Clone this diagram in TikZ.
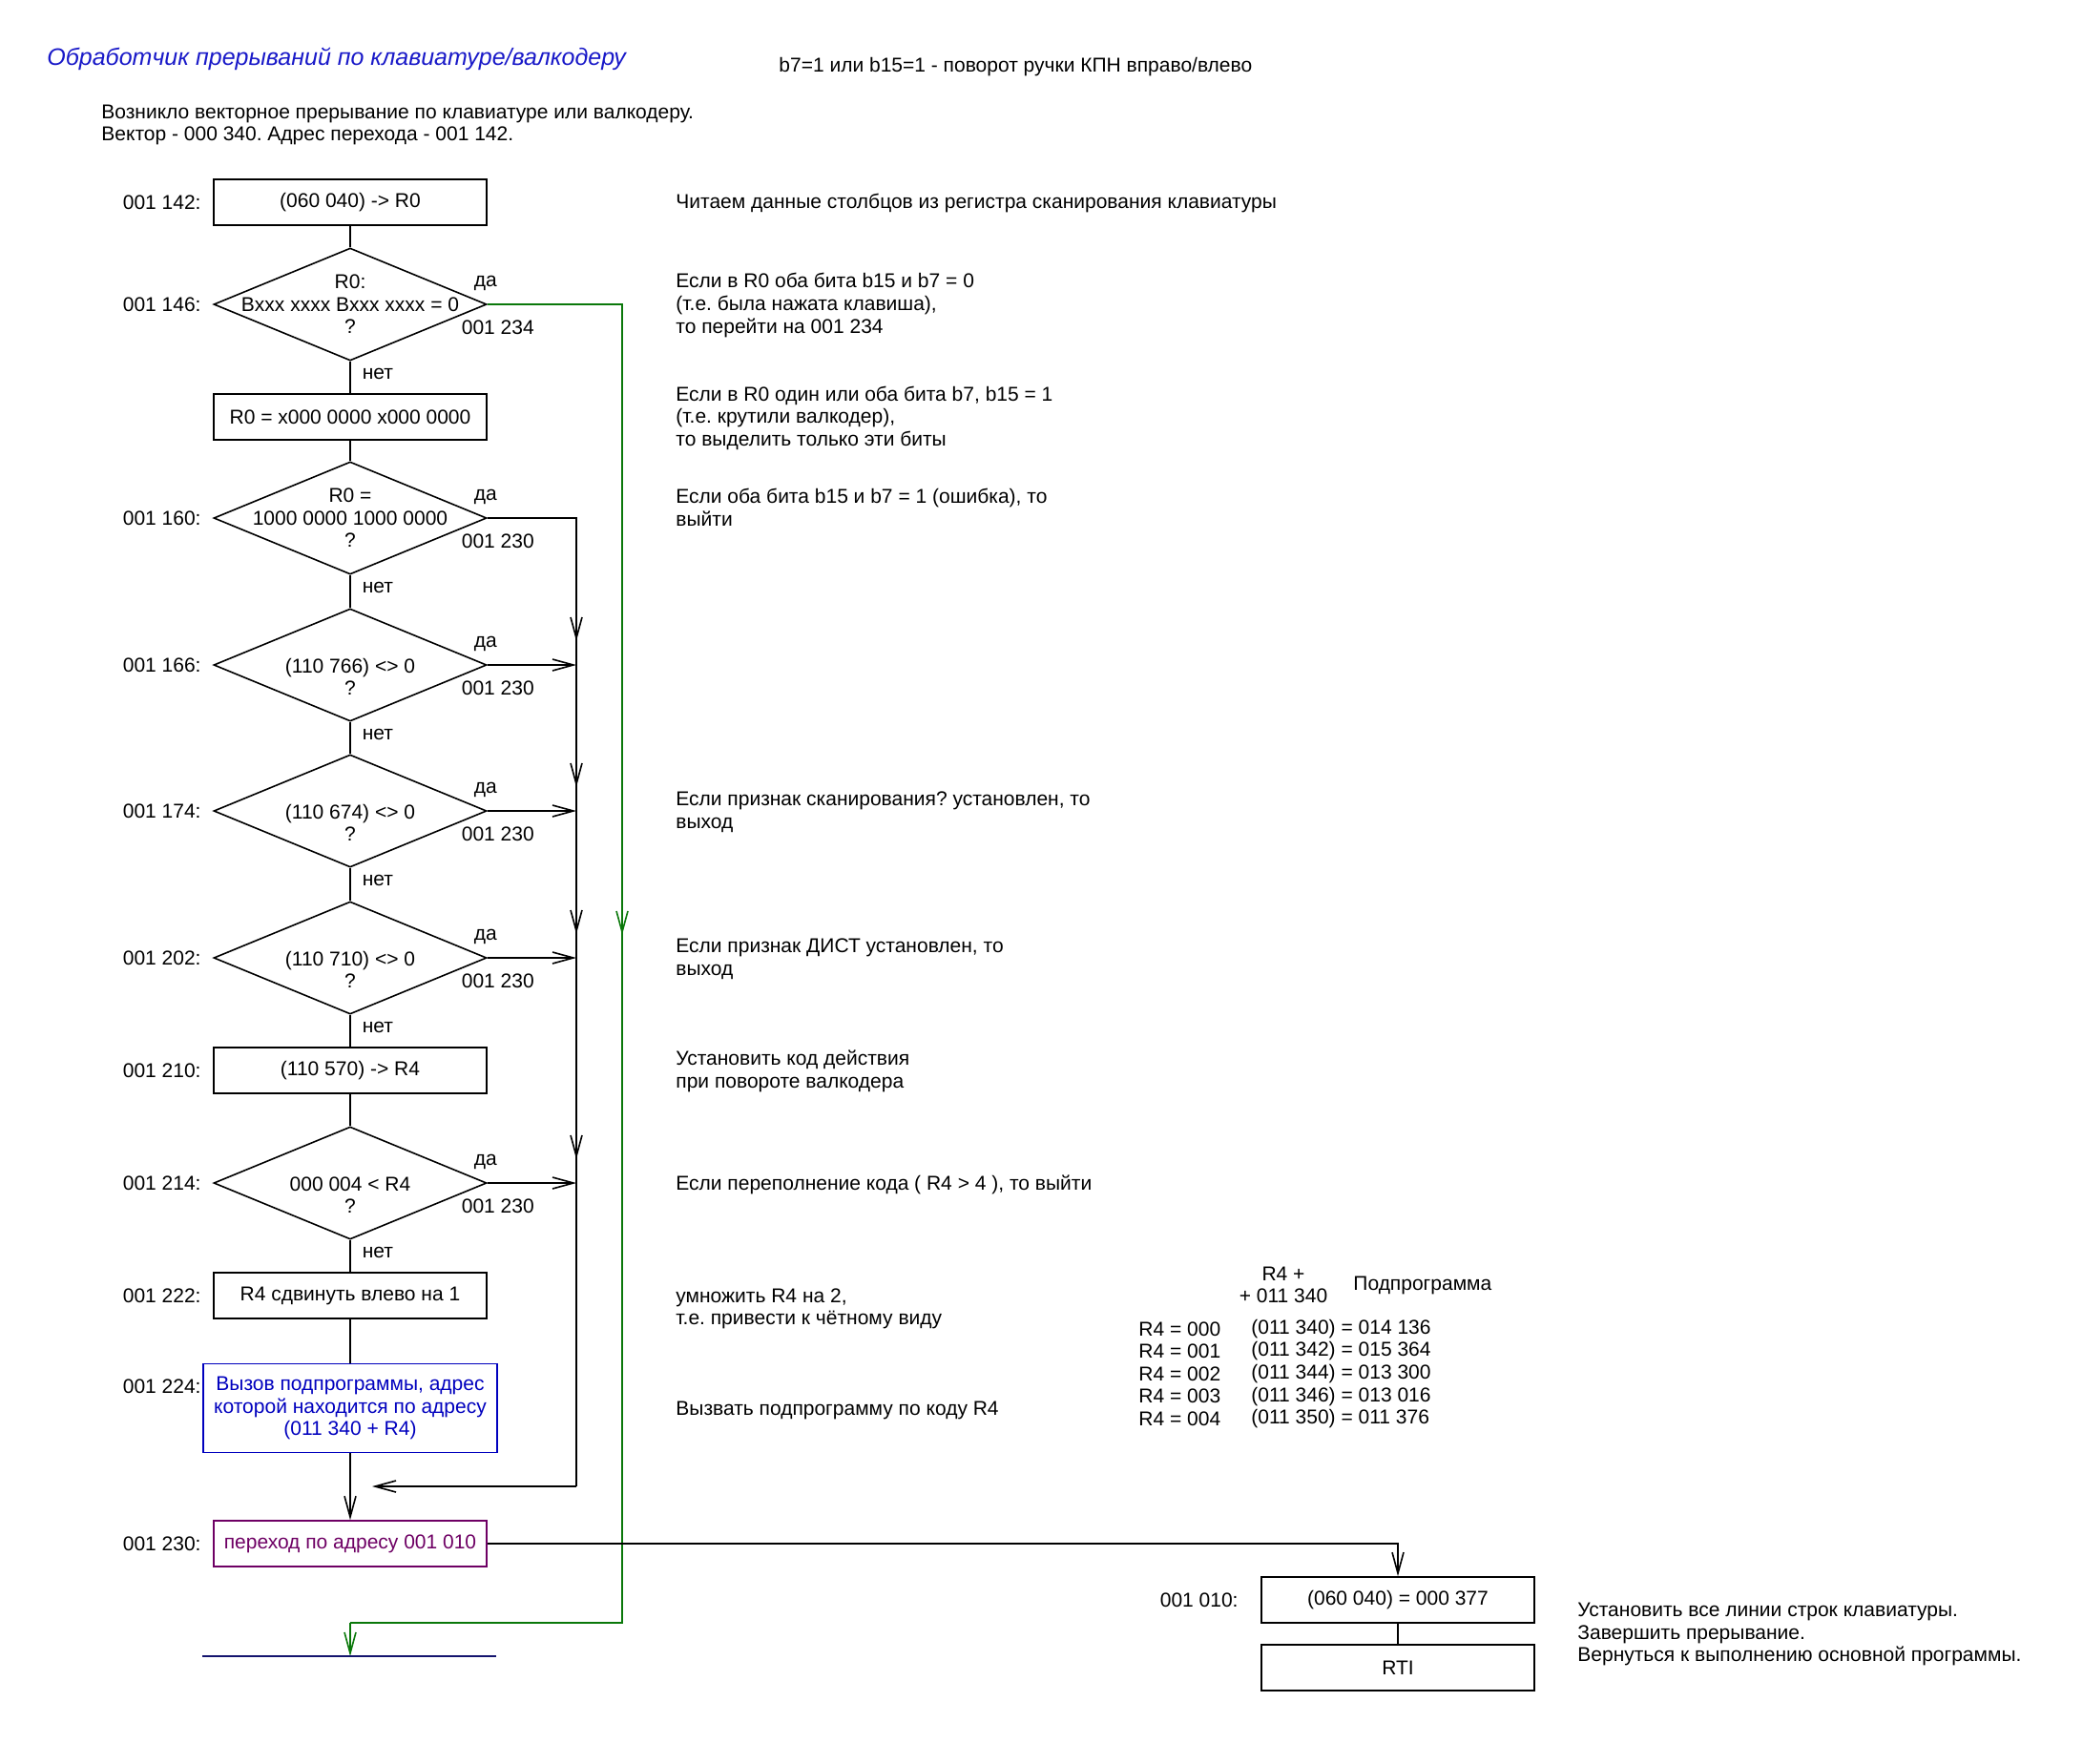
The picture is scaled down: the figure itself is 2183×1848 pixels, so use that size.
\documentclass[tikz,border=0pt]{standalone}
\usepackage{fontspec}
\setmainfont{Liberation Sans}
\usetikzlibrary{arrows.meta,positioning,shapes.geometric}
\definecolor{titleblue}{RGB}{25,25,200}
\definecolor{callblue}{RGB}{0,0,190}
\definecolor{jumppurple}{RGB}{110,0,100}
\definecolor{skipgreen}{RGB}{10,120,10}
\definecolor{endnavy}{RGB}{20,20,110}
\frenchspacing

\begin{document}
\begin{tikzpicture}[x=0.5pt,y=-0.5pt,>={Straight Barb[length=11pt,width=6pt]},
  font=\fontsize{10.5}{11.8}\selectfont,
  op/.style={draw,line width=0.8pt,minimum width=143pt,minimum height=24pt,inner sep=0pt},
  decision/.style={diamond,draw,line width=0.8pt,minimum width=143pt,minimum height=59pt,inner sep=0pt},
  dtext/.style={align=center,inner sep=0pt},
  addr/.style={anchor=east,inner sep=0pt},
  note/.style={anchor=west,align=left,inner sep=0pt},
  tag/.style={inner sep=0pt}]
\useasboundingbox (0,0) rectangle (2183,1848);

  % headings
  \node[note,text=titleblue,font=\fontsize{12.5}{14}\selectfont\itshape] (title) at (49,62) {Обработчик прерываний по клавиатуре/валкодеру};
  \node[note] (bits)  at (816,70)  {b7=1 или b15=1 - поворот ручки КПН вправо/влево};
  \node[note] (intro) at (106,131) {Возникло векторное прерывание по клавиатуре или валкодеру.\\Вектор - 000 340. Адрес перехода - 001 142.};

  % main column
  \node[op]       (rd)   at (367,212)  {(060 040) -> R0};
  \node[decision] (chk)  at (367,319)  {};
  \node[dtext]    (chkt) at (chk)      {R0:\\Bxxx xxxx Bxxx xxxx = 0\\?};
  \node[op]       (msk)  at (367,437)  {R0 = x000 0000 x000 0000};
  \node[decision] (err)  at (367,543)  {};
  \node[dtext]    (errt) at (err)      {R0 =\\1000 0000 1000 0000\\?};
  \node[decision] (fa)   at (367,697)  {};
  \node[dtext]    (fat)  at (fa)       {\strut\\(110 766) <> 0\\?};
  \node[decision] (fb)   at (367,850)  {};
  \node[dtext]    (fbt)  at (fb)       {\strut\\(110 674) <> 0\\?};
  \node[decision] (fc)   at (367,1004) {};
  \node[dtext]    (fct)  at (fc)       {\strut\\(110 710) <> 0\\?};
  \node[op]       (code) at (367,1122) {(110 570) -> R4};
  \node[decision] (ovf)  at (367,1240) {};
  \node[dtext]    (ovft) at (ovf)      {\strut\\000 004 < R4\\?};
  \node[op]       (shl)  at (367,1358) {R4 сдвинуть влево на 1};
  \node[op,draw=callblue,text=callblue,minimum width=154pt,minimum height=46.5pt,align=center] (call) at (367,1476)
       {Вызов подпрограммы, адрес\\которой находится по адресу\\(011 340 + R4)};
  \node[op,draw=jumppurple,text=jumppurple] (jmp) at (367,1618) {переход по адресу 001 010};

  % addresses
  \node[addr] (a142) at (211,212)  {001 142:};
  \node[addr] (a146) at (211,319)  {001 146:};
  \node[addr] (a160) at (211,543)  {001 160:};
  \node[addr] (a166) at (211,697)  {001 166:};
  \node[addr] (a174) at (211,850)  {001 174:};
  \node[addr] (a202) at (211,1004) {001 202:};
  \node[addr] (a210) at (211,1122) {001 210:};
  \node[addr] (a214) at (211,1240) {001 214:};
  \node[addr] (a222) at (211,1358) {001 222:};
  \node[addr] (a224) at (211,1453) {001 224:};
  \node[addr] (a230) at (211,1618) {001 230:};

  % yes / no
  \node[tag] (ychk) at ([shift={(-2,-22)}]chk.east) {да};
  \node[tag] (jchk) at ([shift={(11,24)}]chk.east)  {001 234};
  \node[tag] (nchk) at ([shift={(29,13)}]chk.south) {нет};
  \node[tag] (yerr) at ([shift={(-2,-22)}]err.east) {да};
  \node[tag] (jerr) at ([shift={(11,24)}]err.east)  {001 230};
  \node[tag] (nerr) at ([shift={(29,13)}]err.south) {нет};
  \node[tag] (yfa)  at ([shift={(-2,-22)}]fa.east)  {да};
  \node[tag] (jfa)  at ([shift={(11,24)}]fa.east)   {001 230};
  \node[tag] (nfa)  at ([shift={(29,13)}]fa.south)  {нет};
  \node[tag] (yfb)  at ([shift={(-2,-22)}]fb.east)  {да};
  \node[tag] (jfb)  at ([shift={(11,24)}]fb.east)   {001 230};
  \node[tag] (nfb)  at ([shift={(29,13)}]fb.south)  {нет};
  \node[tag] (yfc)  at ([shift={(-2,-22)}]fc.east)  {да};
  \node[tag] (jfc)  at ([shift={(11,24)}]fc.east)   {001 230};
  \node[tag] (nfc)  at ([shift={(29,13)}]fc.south)  {нет};
  \node[tag] (yovf) at ([shift={(-2,-22)}]ovf.east) {да};
  \node[tag] (jovf) at ([shift={(11,24)}]ovf.east)  {001 230};
  \node[tag] (novf) at ([shift={(29,13)}]ovf.south) {нет};

  % comments
  \node[note] (c1)  at (708,213)  {Читаем данные столбцов из регистра сканирования клавиатуры};
  \node[note] (c2)  at (708,320)  {Если в R0 оба бита b15 и b7 = 0\\(т.е. была нажата клавиша),\\то перейти на 001 234};
  \node[note] (c3)  at (708,438)  {Если в R0 один или оба бита b7, b15 = 1\\(т.е. крутили валкодер),\\то выделить только эти биты};
  \node[note] (c4)  at (708,532)  {Если оба бита b15 и b7 = 1 (ошибка), то\\выйти};
  \node[note] (c5)  at (708,851)  {Если признак сканирования? установлен, то\\выход};
  \node[note] (c6)  at (708,1005) {Если признак ДИСТ установлен, то\\выход};
  \node[note] (c7)  at (708,1123) {Установить код действия\\при повороте валкодера};
  \node[note] (c8)  at (708,1242) {Если переполнение кода ( R4 > 4 ), то выйти};
  \node[note] (c9)  at (708,1372) {умножить R4 на 2,\\т.е. привести к чётному виду};
  \node[note] (c10) at (708,1478) {Вызвать подпрограмму по коду R4};

  % table of subroutines
  \node[dtext] (tabh) at (1345,1347) {R4 +\\+ 011 340};
  \node[note]  (tabs) at (1418,1347) {Подпрограмма};
  \node[note]  (tabk) at (1193,1440) {R4 = 000\\R4 = 001\\R4 = 002\\R4 = 003\\R4 = 004};
  \node[note]  (tabv) at (1311,1440) {(011 340) = 014 136\\(011 342) = 015 364\\(011 344) = 013 300\\(011 346) = 013 016\\(011 350) = 011 376};

  % exit at 001 010
  \node[op]   (ini)  at (1465,1677) {(060 040) = 000 377};
  \node[op]   (rti)  at (1465,1748) {RTI};
  \node[addr] (a010) at (1298,1677) {001 010:};
  \node[note] (cend) at (1653,1713) {Установить все линии строк клавиатуры.\\Завершить прерывание.\\Вернуться к выполнению основной программы.};

  \coordinate (bus)    at (604,543);
  \coordinate (ta)     at (604,697);
  \coordinate (tb)     at (604,850);
  \coordinate (tc)     at (604,1004);
  \coordinate (td)     at (604,1240);
  \coordinate (busend) at (604,1558);
  \coordinate (merge)  at (367,1558);
  \coordinate (gtop)   at (652,319);
  \coordinate (gmid)   at (652,980);
  \coordinate (gbot)   at (652,1701);
  \coordinate (gend)   at (367,1701);
  \coordinate (fin)    at (367,1736);
  \coordinate (endl)   at (212,1736);
  \coordinate (endr)   at (520,1736);

\tikzset{flow/.style={line width=0.8pt},flowarr/.style={flow,->},skip/.style={line width=0.8pt,draw=skipgreen}}
\path (rd)   edge [flow] (chk)
      (chk)  edge [flow] (msk)
      (msk)  edge [flow] (err)
      (err)  edge [flow] (fa)
      (fa)   edge [flow] (fb)
      (fb)   edge [flow] (fc)
      (fc)   edge [flow] (code)
      (code) edge [flow] (ovf)
      (ovf)  edge [flow] (shl)
      (shl)  edge [flow] (call)
      (call) edge [flowarr] (jmp)
      (ini)  edge [flow] (rti);

  % exits to 001 230
  \draw[flow] (err.east) -- (bus) -- (busend);
  \draw[flowarr,shorten >=11.5pt] (busend) -- (merge);
  \draw[flowarr] (fa.east) -- (ta);
  \draw[flowarr] (fb.east) -- (tb);
  \draw[flowarr] (fc.east) -- (tc);
  \draw[flowarr] (ovf.east) -- (td);
  \draw[flowarr] (bus) -- ([yshift=12.5pt]ta);
  \draw[flowarr] (ta) -- ([yshift=12.5pt]tb);
  \draw[flowarr] (tb) -- ([yshift=12.5pt]tc);
  \draw[flowarr] (tc) -- ([yshift=12.5pt]td);

  % jump to 001 234
  \draw[skip] (chk.east) -- (gtop) -- (gbot) -- (gend);
  \draw[skip,->] (gtop) -- (gmid);
  \draw[skip,->] (gend) -- (fin);
  \draw[line width=0.8pt,endnavy] (endl) -- (endr);

  % jump to 001 010
  \draw[flowarr] (jmp.east) -| (ini.north);
\end{tikzpicture}
\end{document}
